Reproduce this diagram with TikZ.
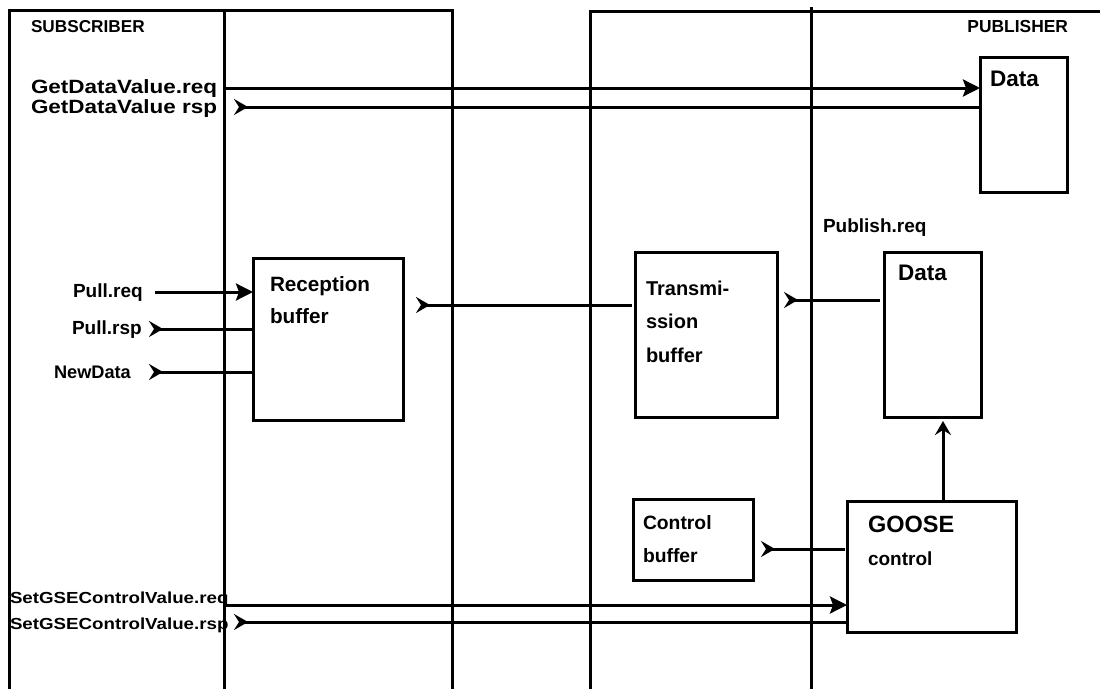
\documentclass[tikz,border=0pt]{standalone}
\usepackage{fontspec}
\setmainfont{Liberation Sans}
\newfontfamily\widesans{Liberation Sans}[FakeStretch=1.17]
\usetikzlibrary{arrows.meta}
\newcommand{\fz}[1]{\fontsize{#1}{#1}\selectfont\bfseries}
\begin{document}
\begin{tikzpicture}[x=1pt,y=-1pt,
  frame/.style={line width=3pt, line cap=rect},
  conn/.style={line width=3pt},
  boxn/.style={draw, line width=3pt, inner sep=0pt, outer sep=0pt},
  lbl/.style={anchor=base west, inner sep=0pt, outer sep=0pt},
  reqtip/.style={-{Stealth[length=17pt,width=17pt,inset=3pt]}},
  chev/.style={{Stealth[length=14pt,width=16pt,inset=5pt,reversed]}-},
  upt/.style={-{Stealth[length=14pt,width=16pt,inset=5pt]}}]
\useasboundingbox (0,0) rectangle (1100,688);
% frames
\draw[frame] (9,688) -- (9,10) -- (452,10) -- (452,688);
\draw[frame] (224,10) -- (224,688);
\draw[frame] (590,688) -- (590,11) -- (1100,11);
\draw[frame] (811,8) -- (811,688);
% boxes
\node[boxn, minimum width=87pt, minimum height=135pt] (data1) at (1023.5,124.5) {};
\node[boxn, minimum width=150pt, minimum height=162pt] (recep) at (328,339) {};
\node[boxn, minimum width=142pt, minimum height=165pt] (trans) at (706,334.5) {};
\node[boxn, minimum width=97pt, minimum height=165pt] (data2) at (932.5,334.5) {};
\node[boxn, minimum width=120pt, minimum height=81pt] (ctrl) at (693,539.5) {};
\node[boxn, minimum width=169pt, minimum height=131pt] (goose) at (931.5,566.5) {};
% labels
\node[lbl] (tsub) at (31,32) {\fz{17.2}SUBSCRIBER};
\node[lbl, anchor=base east] (tpub) at (1068,32) {\fz{17.4}PUBLISHER};
\node[lbl] (tgreq) at (31,93) {\widesans\fz{19.2}GetDataValue.req};
\node[lbl] (tgrsp) at (31,113) {\widesans\fz{19.2}GetDataValue rsp};
\node[lbl] (td1) at (990,86) {\fz{22.5}Data};
\node[lbl] (tpreq) at (823,232) {\fz{19}Publish.req};
\node[lbl] (tpullq) at (73,297) {\fz{19}Pull.req};
\node[lbl] (tpulls) at (72,334) {\fz{19}Pull.rsp};
\node[lbl] (tnew) at (54,378) {\fz{18.2}NewData};
\node[lbl] (trc1) at (270,291) {\fz{20.7}Reception};
\node[lbl] (trc2) at (270,323) {\fz{20.7}buffer};
\node[lbl] (ttr1) at (646,295) {\fz{20}Transmi-};
\node[lbl] (ttr2) at (646,328) {\fz{20}ssion};
\node[lbl] (ttr3) at (646,362) {\fz{20}buffer};
\node[lbl] (td2) at (898,280) {\fz{22.5}Data};
\node[lbl] (tc1) at (643,529) {\fz{19.3}Control};
\node[lbl] (tc2) at (643,562) {\fz{19.3}buffer};
\node[lbl] (tgo1) at (868,532) {\fz{23.5}GOOSE};
\node[lbl] (tgo2) at (868,565) {\fz{19}control};
\node[lbl] (tsreq) at (10,603) {\widesans\fz{16}SetGSEControlValue.req};
\node[lbl] (tsrsp) at (10,629) {\widesans\fz{16}SetGSEControlValue.rsp};
% connector coordinates
\coordinate (cgreq) at (224,88);
\coordinate (cgrsp) at (234,107);
\coordinate (cpq) at (155,292);
\coordinate (cps) at (149,329);
\coordinate (cnd) at (149,372);
\coordinate (crt) at (416,305);
\coordinate (ctd) at (784,300);
\coordinate (ccb) at (761,549);
\coordinate (cup) at (943,421);
\coordinate (csq) at (224,605);
\coordinate (css) at (234,622);
% connectors
\draw[conn, reqtip] (cgreq) -- (cgreq -| data1.west);
\draw[conn, chev] (cgrsp) -- (cgrsp -| data1.west);
\draw[conn, reqtip] (cpq) -- (cpq -| recep.west);
\draw[conn, chev] (cps) -- (cps -| recep.west);
\draw[conn, chev] (cnd) -- (cnd -| recep.west);
\draw[conn, chev] (crt) -- ([xshift=-3pt]crt -| trans.west);
\draw[conn, chev] (ctd) -- ([xshift=-4pt]ctd -| data2.west);
\draw[conn, chev] (ccb) -- ([xshift=-2pt]ccb -| goose.west);
\draw[conn, upt] (cup |- goose.north) -- (cup);
\draw[conn, reqtip] (csq) -- (csq -| goose.west);
\draw[conn, chev] (css) -- (css -| goose.west);
\end{tikzpicture}
\end{document}
